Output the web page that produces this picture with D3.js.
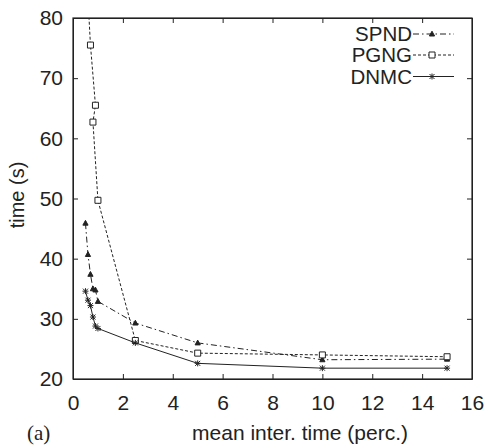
<!DOCTYPE html>
<html>
<head>
<meta charset="utf-8">
<script src="https://cdn.jsdelivr.net/npm/d3@7"></script>
<style>
  body { margin: 0; background: #fff; }
  svg { display: block; }
  .axis text { font-family: "Liberation Sans", Arial, sans-serif; font-size: 21px; fill: #222; }
  .axis path, .axis line { stroke: #222; }
</style>
</head>
<body>
<div id="chart"></div>
<script>
const width = 488, height = 448;
const margin = { top: 18, right: 16, bottom: 69, left: 73 };
const innerWidth = width - margin.left - margin.right;
const innerHeight = height - margin.top - margin.bottom;

// values
const xTicks = [0, 2, 4, 6, 8, 10, 12, 14, 16];
const yTicks = [20, 30, 40, 50, 60, 70, 80];

const spndX = [0.5, 0.6, 0.7, 0.8, 0.9, 1.0, 2.5, 5, 10, 15];
const spndY = [45.9, 40.7, 37.4, 35.0, 34.8, 32.9, 29.3, 26.0, 23.2, 23.3];

const pgngX = [0.5, 0.7, 0.9, 0.8, 1.0, 2.5, 5, 10, 15];
const pgngY = [91, 75.5, 65.5, 62.7, 49.7, 26.4, 24.3, 24.0, 23.7];

const dnmcX = [0.5, 0.6, 0.7, 0.8, 0.9, 1.0, 2.5, 5, 10, 15];
const dnmcY = [34.6, 33.1, 32.2, 30.3, 28.8, 28.4, 26.0, 22.6, 21.8, 21.8];

const series = [
  { name: "SPND", xs: spndX, ys: spndY, dash: "6,3,1.5,3", marker: "tri" },
  { name: "PGNG", xs: pgngX, ys: pgngY, dash: "3,2", marker: "sq" },
  { name: "DNMC", xs: dnmcX, ys: dnmcY, dash: null, marker: "star" }
];

const svg = d3.select("#chart")
  .append("svg")
    .attr("width", width)
    .attr("height", height);

const innerChart = svg
  .append("g")
    .attr("transform", `translate(${margin.left}, ${margin.top})`);

const xScale = d3.scaleLinear().domain([0, 16]).range([0, innerWidth]);
const yScale = d3.scaleLinear().domain([20, 80]).range([innerHeight, 0]);

svg.append("defs").append("clipPath").attr("id", "clip")
  .append("rect").attr("width", innerWidth).attr("height", innerHeight);

// axes with inward ticks, mirrored on top and right
innerChart.append("g")
    .attr("class", "axis")
    .attr("transform", `translate(0, ${innerHeight})`)
    .call(d3.axisBottom(xScale).tickValues(xTicks).tickSize(-5).tickPadding(16).tickSizeOuter(0));

innerChart.append("g")
    .attr("class", "axis")
    .call(d3.axisLeft(yScale).tickValues(yTicks).tickSize(-5).tickPadding(10).tickSizeOuter(0));

innerChart.append("g")
    .attr("class", "axis")
    .call(d3.axisTop(xScale).tickValues(xTicks).tickSize(-5).tickSizeOuter(0))
    .call(g => g.selectAll("text").remove());

innerChart.append("g")
    .attr("class", "axis")
    .attr("transform", `translate(${innerWidth}, 0)`)
    .call(d3.axisRight(yScale).tickValues(yTicks).tickSize(-5).tickSizeOuter(0))
    .call(g => g.selectAll("text").remove());

innerChart.append("rect")
    .attr("width", innerWidth)
    .attr("height", innerHeight)
    .attr("fill", "none")
    .attr("stroke", "#222")
    .attr("stroke-width", 1.2);

const markerPath = (type) => {
  if (type === "tri") return "M0,-2.8L2.6,2L-2.6,2Z";
  if (type === "sq") return "M-3,-3H3V3H-3Z";
  return "M-3,0H3M0,-3V3M-2.5,-2.5L2.5,2.5M-2.5,2.5L2.5,-2.5";
};

const drawMarker = (g, type, x, y) => {
  g.append("path")
    .attr("d", markerPath(type))
    .attr("transform", `translate(${x}, ${y})`)
    .attr("fill", type === "tri" ? "#222" : (type === "sq" ? "#fff" : "none"))
    .attr("stroke", "#222")
    .attr("stroke-width", 1);
};

const line = d3.line().x(d => xScale(d[0])).y(d => yScale(d[1]));

const plot = innerChart.append("g").attr("clip-path", "url(#clip)");

series.forEach(s => {
  const pts = s.xs.map((x, i) => [x, s.ys[i]]);
  plot.append("path")
    .datum(pts)
    .attr("d", line)
    .attr("fill", "none")
    .attr("stroke", "#222")
    .attr("stroke-width", 1)
    .attr("stroke-dasharray", s.dash);
  pts.forEach(p => drawMarker(plot, s.marker, xScale(p[0]), yScale(p[1])));
});

// legend
const legendRows = [16, 37, 58.5];
series.forEach((s, i) => {
  const y = legendRows[i];
  const lx = innerWidth - 59;
  innerChart.append("text")
      .attr("x", lx - 1)
      .attr("y", y)
      .attr("dy", "0.36em")
      .attr("text-anchor", "end")
      .style("font-family", "Liberation Sans, Arial, sans-serif")
      .style("font-size", "20.5px")
      .attr("fill", "#222")
      .text(s.name);
  innerChart.append("line")
      .attr("x1", lx).attr("x2", lx + 41)
      .attr("y1", y).attr("y2", y)
      .attr("stroke", "#222")
      .attr("stroke-width", 1)
      .attr("stroke-dasharray", s.dash);
  drawMarker(innerChart, s.marker, lx + 19, y);
});

// axis titles
svg.append("text")
    .attr("transform", `translate(24, 195) rotate(-90)`)
    .attr("text-anchor", "middle")
    .style("font-family", "Liberation Sans, Arial, sans-serif")
    .style("font-size", "20px")
    .attr("fill", "#222")
    .text("time (s)");

svg.append("text")
    .attr("x", 300)
    .attr("y", 440)
    .attr("text-anchor", "middle")
    .style("font-family", "Liberation Sans, Arial, sans-serif")
    .style("font-size", "21px")
    .attr("fill", "#222")
    .text("mean inter. time (perc.)");

svg.append("text")
    .attr("x", 27)
    .attr("y", 440)
    .style("font-family", "Liberation Serif, Times New Roman, serif")
    .style("font-size", "21px")
    .attr("fill", "#222")
    .text("(a)");
</script>
</body>
</html>
